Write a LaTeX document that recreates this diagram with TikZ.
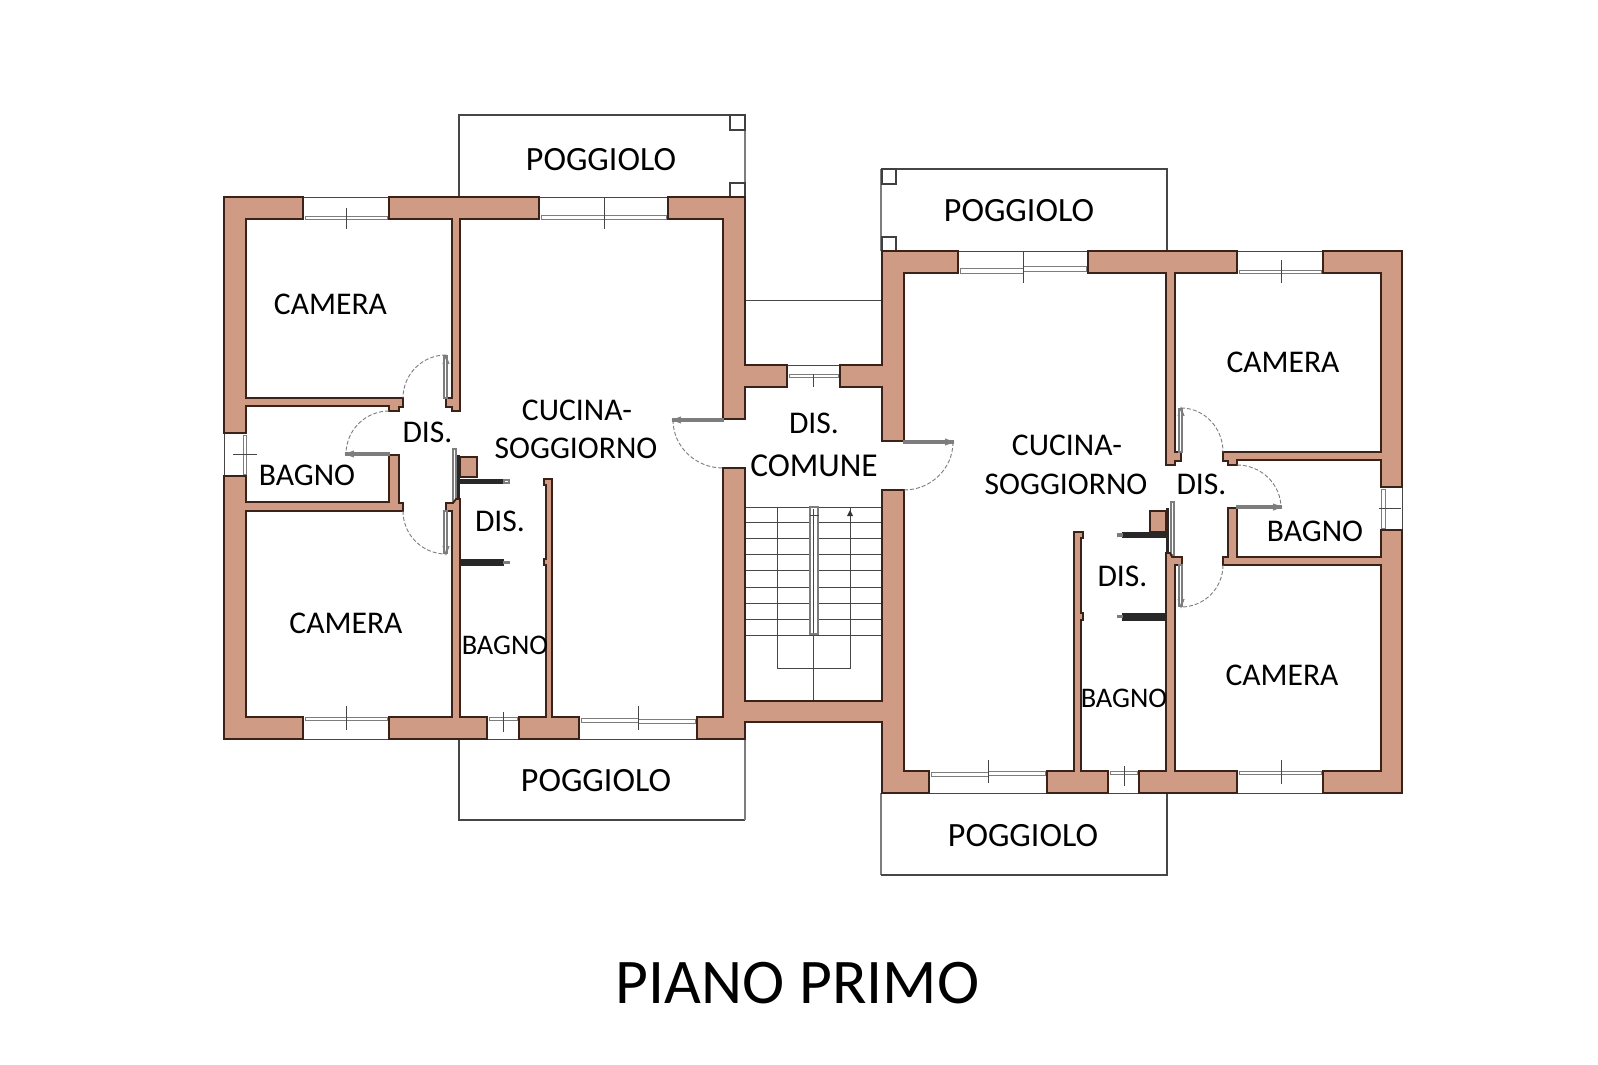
\documentclass[tikz,border=0pt]{standalone}
\usepackage{fontspec}
\setmainfont{Carlito}
\usetikzlibrary{calc}
\definecolor{wallfill}{RGB}{207,155,133}
\definecolor{wallline}{RGB}{58,34,24}
\definecolor{thinline}{RGB}{70,70,70}
\definecolor{leafline}{RGB}{125,125,125}
\definecolor{barcol}{RGB}{40,40,40}
\tikzset{
  wall/.style={fill=wallfill,draw=wallline,line width=1.8pt,line join=miter},
  thin line/.style={draw=thinline,line width=0.9pt},
  rail/.style={draw=thinline,line width=1.3pt},
  rail light/.style={draw=leafline,line width=1.8pt},
  post/.style={draw=black!75,line width=1.6pt,fill=white},
  glass/.style={draw=leafline,line width=0.9pt,fill=white},
  tick/.style={draw=thinline,line width=0.8pt},
  leaf/.style={draw=leafline,line width=1.2pt,fill=white},
  leaftip/.style={draw=leafline,line width=1.1pt},
  swing/.style={draw=leafline,line width=0.9pt,dash pattern=on 4pt off 2pt},
  tread/.style={draw=thinline,line width=0.8pt},
  bar/.style={fill=barcol,draw=none},
  lab/.style={inner sep=0pt,text height=20pt,text depth=0pt,font=\fontsize{31.6}{36}\selectfont},
  poglab/.style={inner sep=0pt,text height=21pt,text depth=0pt,font=\fontsize{34}{38}\selectfont},
  comlab/.style={inner sep=0pt,text height=20pt,text depth=0pt,font=\fontsize{33.4}{38}\selectfont},
  smalllab/.style={inner sep=0pt,text height=17pt,text depth=0pt,font=\fontsize{28.4}{32}\selectfont},
  titlelab/.style={inner sep=0pt,text height=40pt,text depth=0pt,font=\fontsize{63.6}{70}\selectfont}
}
\newcommand{\qarc}[3]{\draw[swing] (#1) .. controls ($(#1)!.5523!(#2)$) and ($(#3)!.5523!(#2)$) .. (#3);}
\begin{document}
\begin{tikzpicture}[x=1pt,y=-1pt]
\useasboundingbox (0,0) rectangle (1598,1065);
\fill[white] (0,0) rectangle (1598,1065);

% balconies
\draw[rail] (459,197) -- (459,115) -- (745,115);
\draw[rail light] (745,115) -- (745,197);
\draw[post] (730,115) rectangle (745,130);
\draw[post] (730,183) rectangle (745,197);
\draw[rail] (459,739) -- (459,820) -- (745,820);
\draw[rail light] (745,820) -- (745,739);
\draw[rail] (1167,251) -- (1167,169) -- (881,169);
\draw[rail light] (881,169) -- (881,251);
\draw[post] (882,169) rectangle (896,184);
\draw[post] (882,237) rectangle (896,251);
\draw[rail light] (881,793) -- (881,875);
\draw[rail] (881,875) -- (1167,875) -- (1167,793);

% outer thin lines of window openings
\draw[thin line] (303,197) -- (389,197);
\draw[thin line] (539,197) -- (668,197);
\draw[thin line] (303,739) -- (389,739);
\draw[thin line] (487,739) -- (519,739);
\draw[thin line] (579,739) -- (697,739);
\draw[thin line] (958,251) -- (1088,251);
\draw[thin line] (1237,251) -- (1323,251);
\draw[thin line] (929,793) -- (1047,793);
\draw[thin line] (1108,793) -- (1139,793);
\draw[thin line] (1237,793) -- (1323,793);
\draw[thin line] (224,433) -- (224,476);
\draw[thin line] (1402,487) -- (1402,530);
\draw[thin line] (787,365) -- (840,365);
\draw[thin line] (745,300) -- (882,300);

% window glass
\draw[glass] (305,216) rectangle (387,219);
\draw[glass] (541,215) rectangle (604,219);
\draw[glass] (604,215) rectangle (666,219);
\draw[glass] (305,717) rectangle (387,720);
\draw[glass] (489,717) rectangle (517,720);
\draw[glass] (581,718) rectangle (638,722);
\draw[glass] (638,719) rectangle (695,723);
\draw[glass] (960,268) rectangle (1023,273);
\draw[glass] (1023,266) rectangle (1086,271);
\draw[glass] (1239,270) rectangle (1321,273);
\draw[glass] (931,772) rectangle (988,776);
\draw[glass] (988,771) rectangle (1045,775);
\draw[glass] (1110,771) rectangle (1137,774);
\draw[glass] (1239,771) rectangle (1321,774);
\draw[glass] (243,435) rectangle (246,474);
\draw[glass] (1381,489) rectangle (1385,528);
\draw[glass] (789,374) rectangle (838,377);

% window ticks
\draw[tick] (346,208) -- (346,229);
\draw[tick] (604,197) -- (604,229);
\draw[tick] (346,706) -- (346,730);
\draw[tick] (503,712) -- (503,732);
\draw[tick] (638,706) -- (638,730);
\draw[tick] (1023,251) -- (1023,283);
\draw[tick] (1281,260) -- (1281,283);
\draw[tick] (988,760) -- (988,783);
\draw[tick] (1124,766) -- (1124,786);
\draw[tick] (1281,760) -- (1281,784);
\draw[tick] (233,454) -- (257,454);
\draw[tick] (1379,508) -- (1401,508);
\draw[tick] (813,374) -- (813,387);

% stairs
\foreach \yy in {507,522,538,554,570,587,603,619,635}{
  \draw[tread] (745,\yy) -- (882,\yy);
}
\draw[tread] (777,507) -- (777,668) -- (850,668) -- (850,507);
\draw[tread] (813,635) -- (813,701);
\draw[leaf,fill=white] (810,507) rectangle (818,634);
\draw[tread] (813,509) -- (813,633);
\draw[thin line] (810,515) -- (819,515);
\fill[black!80] (850,510) -- (853,516) -- (847,516) -- cycle;

% sliding doors (left flat)
\draw[leaf] (453,449) rectangle (456,503);
\fill[barcol] (457,455) rectangle (460,499);
\draw[wall] (460,457) rectangle (477,477);
\fill[bar] (460,479) rectangle (504,484);
\draw[leaf] (504,480) rectangle (509,483);
\fill[bar] (460,559) rectangle (504,566);
\draw[leaf] (504,562) rectangle (509,563);

% sliding doors (right flat)
\draw[leaf] (1171,502) rectangle (1174,555);
\fill[barcol] (1166,508) rectangle (1169,553);
\draw[wall] (1150,511) rectangle (1166,532);
\fill[bar] (1122,532) rectangle (1166,538);
\draw[leaf] (1118,534) rectangle (1122,536);
\fill[bar] (1122,613) rectangle (1166,621);
\draw[leaf] (1118,616) rectangle (1122,617);

% walls, left flat
\draw[wall] (224,197) -- (303,197) -- (303,219) -- (246,219) -- (246,398) -- (403,398) -- (403,407) -- (399,407) -- (399,411) -- (389,411) -- (389,406) -- (246,406) -- (246,433) -- (224,433) -- cycle;
\draw[wall] (389,197) -- (539,197) -- (539,219) -- (460,219) -- (460,411) -- (452,411) -- (452,407) -- (446,407) -- (446,398) -- (452,398) -- (452,219) -- (389,219) -- cycle;
\draw[wall] (224,476) -- (246,476) -- (246,502) -- (389,502) -- (389,455) -- (399,455) -- (399,503) -- (403,503) -- (403,511) -- (246,511) -- (246,717) -- (303,717) -- (303,739) -- (224,739) -- cycle;
\draw[wall] (389,717) -- (452,717) -- (452,511) -- (446,511) -- (446,503) -- (453,503) -- (456,499) -- (460,499) -- (460,717) -- (487,717) -- (487,739) -- (389,739) -- cycle;
\draw[wall] (519,717) -- (546,717) -- (546,565) -- (544,565) -- (544,559) -- (546,559) -- (546,485) -- (544,485) -- (544,479) -- (552,479) -- (552,717) -- (579,717) -- (579,739) -- (519,739) -- cycle;

% walls, centre
\draw[wall] (668,197) -- (745,197) -- (745,365) -- (787,365) -- (787,387) -- (745,387) -- (745,419) -- (723,419) -- (723,219) -- (668,219) -- cycle;
\draw[wall] (882,251) -- (958,251) -- (958,273) -- (904,273) -- (904,441) -- (882,441) -- (882,387) -- (840,387) -- (840,365) -- (882,365) -- cycle;
\draw[wall] (723,468) -- (745,468) -- (745,701) -- (882,701) -- (882,490) -- (904,490) -- (904,771) -- (929,771) -- (929,793) -- (882,793) -- (882,722) -- (745,722) -- (745,739) -- (697,739) -- (697,717) -- (723,717) -- cycle;

% walls, right flat
\draw[wall] (1088,251) -- (1237,251) -- (1237,273) -- (1175,273) -- (1175,452) -- (1181,452) -- (1181,461) -- (1175,461) -- (1175,465) -- (1166,465) -- (1166,273) -- (1088,273) -- cycle;
\draw[wall] (1323,251) -- (1402,251) -- (1402,487) -- (1381,487) -- (1381,460) -- (1237,460) -- (1237,465) -- (1228,465) -- (1228,461) -- (1223,461) -- (1223,452) -- (1381,452) -- (1381,273) -- (1323,273) -- cycle;
\draw[wall] (1381,530) -- (1402,530) -- (1402,793) -- (1323,793) -- (1323,771) -- (1381,771) -- (1381,565) -- (1223,565) -- (1223,557) -- (1228,557) -- (1228,508) -- (1237,508) -- (1237,557) -- (1381,557) -- cycle;
\draw[wall] (1139,771) -- (1166,771) -- (1166,553) -- (1170,553) -- (1172,557) -- (1182,557) -- (1182,565) -- (1175,565) -- (1175,771) -- (1237,771) -- (1237,793) -- (1139,793) -- cycle;
\draw[wall] (1047,771) -- (1074,771) -- (1074,532) -- (1083,532) -- (1083,538) -- (1081,538) -- (1081,613) -- (1083,613) -- (1083,620) -- (1081,620) -- (1081,771) -- (1108,771) -- (1108,793) -- (1047,793) -- cycle;

% door leaves
\draw[leaf] (444,356) rectangle (447,398);
\draw[leaf] (346,453) rectangle (389,455);
\draw[leaf] (444,511) rectangle (447,553);
\draw[leaf] (673,419) rectangle (723,421);
\draw[leaf,line width=1.6pt] (904,441) rectangle (953,443);
\draw[leaf] (1179,409) rectangle (1182,452);
\draw[leaf] (1237,506) rectangle (1281,508);
\draw[leaf] (1179,565) rectangle (1182,606);

% door leaf tips
\draw[leaftip] (443,364) -- (446,356) -- (449,364);
\draw[leaftip] (354,451) -- (346,454) -- (354,457);
\draw[leaftip] (443,546) -- (446,554) -- (449,546);
\draw[leaftip] (681,417) -- (673,420) -- (681,423);
\draw[leaftip] (945,439) -- (953,442) -- (945,445);
\draw[leaftip] (1178,416) -- (1181,408) -- (1184,416);
\draw[leaftip] (1273,504) -- (1281,507) -- (1273,510);
\draw[leaftip] (1178,599) -- (1181,607) -- (1184,599);

% door swings
\qarc{446,355}{403,355}{403,398}
\qarc{389,411}{346,411}{346,454}
\qarc{403,511}{403,554}{446,554}
\qarc{673,420}{673,468}{723,468}
\qarc{953,442}{953,490}{904,490}
\qarc{1181,408}{1223,408}{1223,452}
\qarc{1237,465}{1281,465}{1281,508}
\qarc{1223,565}{1223,607}{1181,607}

% labels
\node[lab] (cam1) at (330.5,304) {CAMERA};
\node[lab] (cam2) at (346,623) {CAMERA};
\node[lab] (bag1) at (307,475) {BAGNO};
\node[lab] (dis1) at (427.5,432) {DIS.};
\node[lab] (dis2) at (500,521) {DIS.};
\node[smalllab] (bag2) at (505,646) {BAGNO};
\node[poglab] (pog1) at (601,160) {POGGIOLO};
\node[poglab] (pog2) at (596,781) {POGGIOLO};
\node[poglab] (pog3) at (1019,211) {POGGIOLO};
\node[poglab] (pog4) at (1023,836) {POGGIOLO};
\node[lab] (cuc1) at (577,410) {CUCINA-};
\node[lab] (sog1) at (576,448) {SOGGIORNO};
\node[lab] (cuc2) at (1067,445) {CUCINA-};
\node[lab] (sog2) at (1066,484) {SOGGIORNO};
\node[lab] (dis3) at (814,423) {DIS.};
\node[comlab] (com) at (814,466) {COMUNE};
\node[lab] (cam3) at (1283,362) {CAMERA};
\node[lab] (dis4) at (1201.5,484) {DIS.};
\node[lab] (bag3) at (1315,531) {BAGNO};
\node[lab] (dis5) at (1122.5,576) {DIS.};
\node[smalllab] (bag4) at (1124,699) {BAGNO};
\node[lab] (cam4) at (1282,675) {CAMERA};
\node[titlelab] (title) at (797.5,983) {PIANO PRIMO};
\end{tikzpicture}
\end{document}
